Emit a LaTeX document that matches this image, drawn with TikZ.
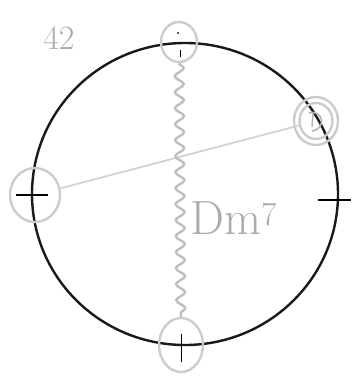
\documentclass[tikz,border=0pt]{standalone}
\usetikzlibrary{decorations.pathmorphing,shapes.geometric}
\begin{document}
\begin{tikzpicture}[x=1pt,y=-1pt,
  ring/.style={draw=gray!40,line width=2.4pt,ellipse,inner sep=0pt},
  tick/.style={draw=black,line width=1.1pt},
  pencil/.style={draw=gray!50,line width=2.4pt},
  lbl/.style={text=gray!65,inner sep=0pt}]
\useasboundingbox (0,0) rectangle (351,383);
% main circle
\draw[black!90,line width=2.4pt] (185,194) ellipse [x radius=153,y radius=151];
% small rings
\node[ring,minimum width=36pt,minimum height=40pt] (top) at (179,42) {};
\node[ring,minimum width=44pt,minimum height=48pt] (rightO) at (316,121) {};
\node[ring,minimum width=33pt,minimum height=36pt] (right) at (316,121) {};
\node[ring,minimum width=50pt,minimum height=54pt] (left) at (35,195) {};
\node[ring,minimum width=44pt,minimum height=54pt] (bottom) at (181,345) {};
% ticks
\draw[tick] (16,195) -- (48,195);
\draw[tick] (318,200) -- (351,200);
\draw[tick,line width=0.8pt] (181,334) -- (181,362);
\fill (178,33) circle (1pt);
\draw[line width=0.9pt] (180,50) -- (180,57);
% mark inside the right ring
\draw[gray!60,line width=1.6pt] (309,113) .. controls (323,109) and (327,129) .. (312,131);
\draw[gray!60,line width=1.4pt] (313,114) -- (312,127);
% connectors
\draw[gray!35,line width=1.8pt] (left) -- (right);
\draw[pencil,decorate,decoration={snake,amplitude=4.5pt,segment length=16pt}] (top) -- (bottom);
% labels
\node[lbl,font=\fontsize{34}{34}\selectfont] (n42) at (59,38) {42};
\node[lbl,font=\fontsize{48}{48}\selectfont,anchor=west] (chord) at (190,218) {Dm\textsuperscript{7}};
\end{tikzpicture}
\end{document}
